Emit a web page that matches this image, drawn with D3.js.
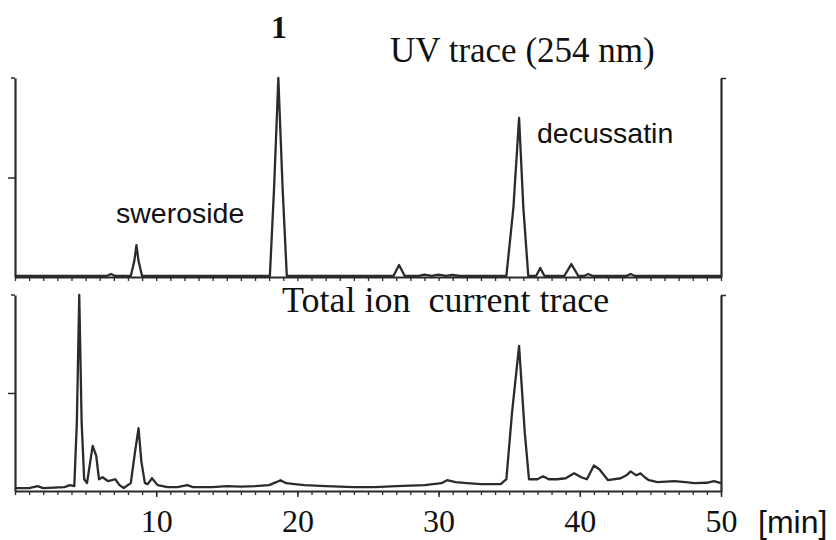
<!DOCTYPE html>
<html>
<head>
<meta charset="utf-8">
<script src="https://cdn.jsdelivr.net/npm/d3@7"></script>
<style>
  body { margin: 0; background: #fff; }
  svg { display: block; }
</style>
</head>
<body>
<div id="chart"></div>
<script>
// Time axis (min)
const timeTicks = [10, 20, 30, 40, 50];

// UV trace (254 nm): [time, relative intensity %]
const uvTrace = [
  [0, 0.5], [6.5, 0.5], [6.8, 1.5], [7.1, 0.5], [8.2, 0.5], [8.45, 8], [8.6, 16], [8.75, 8], [9.0, 0.5],
  [18.05, 0.5], [18.35, 45], [18.65, 100], [18.95, 45], [19.25, 0.5],
  [26.8, 0.5], [27.2, 6], [27.6, 0.5], [28.5, 0.5], [29, 1.2], [29.5, 0.6], [30, 1.2], [30.5, 0.6], [31, 1], [31.5, 0.5],
  [34.8, 0.5], [35.3, 35], [35.7, 80], [36.0, 35], [36.35, 0.5],
  [36.9, 0.5], [37.2, 4.5], [37.5, 0.5], [38.9, 0.5], [39.4, 6.5], [39.9, 0.5],
  [40.3, 0.5], [40.6, 1.5], [40.9, 0.5], [43.3, 0.5], [43.6, 1.5], [43.9, 0.5], [50, 0.5]
];

// Total ion current trace: [time, relative intensity %]
const ticTrace = [
  [0, 1.5], [1, 1.5], [1.6, 2.5], [2, 1.5], [3.5, 2], [3.9, 3], [4.2, 2.5],
  [4.38, 35], [4.55, 100], [4.72, 35], [4.9, 6], [5.1, 4], [5.5, 23], [5.75, 18], [5.95, 6],
  [6.2, 7], [6.6, 5], [7.1, 6], [7.4, 3], [7.7, 1.5], [8.2, 4], [8.5, 20], [8.75, 32], [8.95, 15],
  [9.2, 4], [9.4, 3.5], [9.7, 6.5], [10.1, 3], [10.8, 2], [11.5, 2], [12.2, 3], [12.6, 2],
  [14, 2], [15, 2.5], [16, 2.2], [17, 2.5], [18, 3], [18.5, 4.5], [18.8, 5.5], [19.2, 4],
  [19.8, 3.5], [20.5, 3], [22, 2.5], [24, 2], [25.5, 2], [27, 2.5], [29, 3], [30.2, 4],
  [30.6, 5.5], [31.2, 4.5], [32, 4], [33, 3.5], [34.4, 3.5], [34.8, 6], [35.2, 40], [35.7, 74],
  [36.1, 30], [36.4, 6], [37, 6], [37.4, 7.5], [37.8, 6], [38.4, 6], [39, 6.5], [39.6, 9],
  [40.1, 7], [40.5, 6], [41, 13], [41.4, 11], [42, 5.5], [42.9, 6.5], [43.3, 8], [43.6, 10],
  [44.0, 8], [44.3, 9], [44.6, 7], [44.9, 5.5], [45.5, 4.5], [46.7, 5], [47.5, 4.5], [48.1, 4],
  [49, 4.2], [49.5, 5], [50, 4]
];

const width = 836;
const height = 540;
const ink = '#2b2b2b';

const svg = d3.select('#chart')
  .append('svg')
  .attr('width', width)
  .attr('height', height);

// Shared time scale
const x = d3.scaleLinear().domain([0, 50]).range([15, 721]);

// Panel scales
const yTop = d3.scaleLinear().domain([0, 100]).range([277, 78]);
const yBot = d3.scaleLinear().domain([0, 100]).range([491, 295]);

function drawPanel(y, data) {
  const g = svg.append('g');

  // minor ticks on baseline
  g.append('g')
    .attr('transform', 'translate(0,' + y(0) + ')')
    .call(d3.axisBottom(x).tickValues(d3.range(0, 51, 1)).tickSize(4).tickSizeOuter(0).tickFormat(''))
    .call(a => a.selectAll('line').attr('stroke', ink).attr('stroke-width', 1.3))
    .call(a => a.select('.domain').attr('stroke', ink).attr('stroke-width', 2.2));

  // left axis with a mid tick and a short top tick
  g.append('g')
    .attr('transform', 'translate(' + x(0) + ',0)')
    .call(d3.axisLeft(y).tickValues([50]).tickSize(7).tickSizeOuter(0).tickFormat(''))
    .call(a => a.selectAll('line').attr('stroke', ink).attr('stroke-width', 1.5))
    .call(a => a.select('.domain').attr('stroke', ink).attr('stroke-width', 2.2));
  g.append('line')
    .attr('x1', x(0) - 4).attr('x2', x(0))
    .attr('y1', y(100)).attr('y2', y(100))
    .attr('stroke', ink).attr('stroke-width', 1.5);

  // right axis
  g.append('g')
    .attr('transform', 'translate(' + x(50) + ',0)')
    .call(d3.axisRight(y).tickValues([100]).tickSize(5).tickSizeOuter(0).tickFormat(''))
    .call(a => a.selectAll('line').attr('stroke', ink).attr('stroke-width', 1.5))
    .call(a => a.select('.domain').attr('stroke', ink).attr('stroke-width', 2.2));

  // trace
  const line = d3.line()
    .x(d => x(d[0]))
    .y(d => y(d[1]))
    .curve(d3.curveLinear);

  g.append('path')
    .datum(data)
    .attr('d', line)
    .attr('fill', 'none')
    .attr('stroke', ink)
    .attr('stroke-width', 2.3)
    .attr('stroke-linejoin', 'round');
}

drawPanel(yTop, uvTrace);
drawPanel(yBot, ticTrace);

// Time labels under the lower panel
svg.append('g')
  .attr('transform', 'translate(0,' + yBot(0) + ')')
  .call(d3.axisBottom(x).tickValues(timeTicks).tickSize(6).tickPadding(12))
  .call(a => a.select('.domain').remove())
  .call(a => a.selectAll('line').attr('stroke', ink).attr('stroke-width', 1.5))
  .call(a => a.selectAll('text')
    .attr('fill', '#111')
    .style('font', '32px "Liberation Serif", "Times New Roman", serif'));

svg.append('text')
  .attr('x', 758).attr('y', 533)
  .text('[min]')
  .style('font', '32px "Liberation Sans", Arial, sans-serif')
  .style('fill', '#111');

// Titles and peak labels
svg.append('text')
  .attr('x', 271).attr('y', 38)
  .text('1')
  .style('font', 'bold 32px "Liberation Serif", "Times New Roman", serif')
  .style('fill', '#111');

svg.append('text')
  .attr('x', 390).attr('y', 62)
  .text('UV trace (254 nm)')
  .style('font', '35px "Liberation Serif", "Times New Roman", serif')
  .style('fill', '#111');

svg.append('text')
  .attr('x', 282).attr('y', 312)
  .attr('xml:space', 'preserve')
  .style('white-space', 'pre')
  .text('Total ion  current trace')
  .style('font', '36px "Liberation Serif", "Times New Roman", serif')
  .style('fill', '#111');

svg.append('text')
  .attr('x', 116).attr('y', 223)
  .text('sweroside')
  .style('font', '28.5px "Liberation Sans", Arial, sans-serif')
  .style('fill', '#111');

svg.append('text')
  .attr('x', 537).attr('y', 143)
  .text('decussatin')
  .style('font', '28.5px "Liberation Sans", Arial, sans-serif')
  .style('fill', '#111');
</script>
</body>
</html>
